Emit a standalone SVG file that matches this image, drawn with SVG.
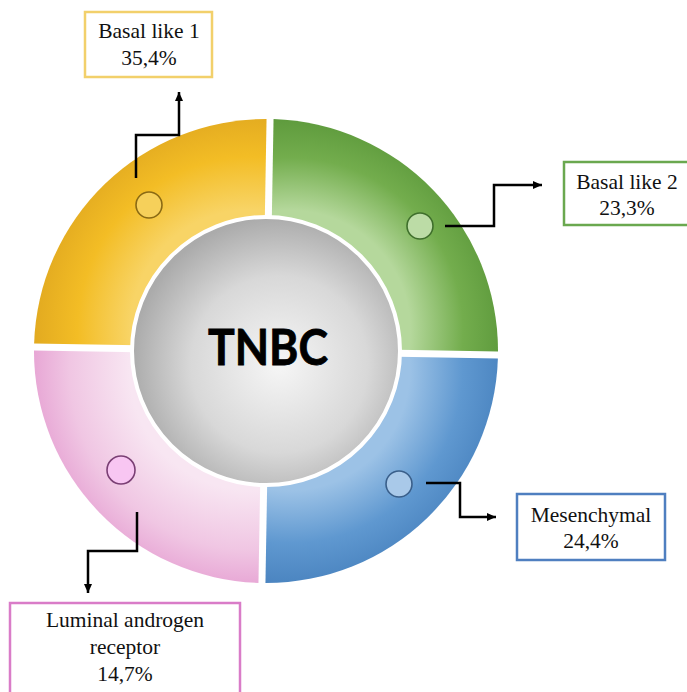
<svg xmlns="http://www.w3.org/2000/svg" width="687" height="692" viewBox="0 0 687 692">
<defs>
<style>
.lbl{font-family:"Liberation Serif","Times New Roman",serif;font-size:21.5px;fill:#111;text-anchor:middle}
.box{fill:#fff;stroke-width:2.5}
.con{fill:none;stroke:#000;stroke-width:2.5;marker-end:url(#ah)}
.dot{stroke-width:1.6}
</style>
<marker id="ah" markerWidth="10" markerHeight="10" refX="9" refY="5" orient="auto" markerUnits="userSpaceOnUse"><path d="M0,1 L9,5 L0,9 Z" fill="#000"/></marker>
<radialGradient id="gY" gradientUnits="userSpaceOnUse" cx="250" cy="330" r="240">
<stop offset="0.5" stop-color="#f8d466"/><stop offset="0.72" stop-color="#f3bd25"/><stop offset="1" stop-color="#d9a01e"/></radialGradient>
<radialGradient id="gG" gradientUnits="userSpaceOnUse" cx="290" cy="330" r="240">
<stop offset="0.5" stop-color="#b5d89c"/><stop offset="0.72" stop-color="#73ad4d"/><stop offset="1" stop-color="#4f8d31"/></radialGradient>
<radialGradient id="gB" gradientUnits="userSpaceOnUse" cx="290" cy="370" r="240">
<stop offset="0.5" stop-color="#9cc2e6"/><stop offset="0.72" stop-color="#5f98d0"/><stop offset="1" stop-color="#3e78b6"/></radialGradient>
<radialGradient id="gP" gradientUnits="userSpaceOnUse" cx="250" cy="370" r="240">
<stop offset="0.5" stop-color="#f8e6f2"/><stop offset="0.75" stop-color="#f0c6e3"/><stop offset="1" stop-color="#e292cc"/></radialGradient>
<radialGradient id="gC" cx="0.55" cy="0.55" r="0.55">
<stop offset="0" stop-color="#f6f6f6"/><stop offset="0.6" stop-color="#d8d8d8"/><stop offset="1" stop-color="#ababab"/></radialGradient>
</defs>

<g id="ring" transform="rotate(1 266 351)">
<path id="seg-bl1" d="M262.5,347.5 L34,347.5 A232,232 0 0 1 262.5,119 Z" fill="url(#gY)"/>
<path id="seg-bl2" d="M269.5,347.5 L269.5,119 A232,232 0 0 1 498,347.5 Z" fill="url(#gG)"/>
<path id="seg-mes" d="M269.5,354.5 L498,354.5 A232,232 0 0 1 269.5,583 Z" fill="url(#gB)"/>
<path id="seg-lar" d="M262.5,354.5 L262.5,583 A232,232 0 0 1 34,354.5 Z" fill="url(#gP)"/>
</g>

<g id="center">
<circle cx="266" cy="351" r="134" fill="url(#gC)" stroke="#fff" stroke-width="4"/>
<text x="268" y="365" font-family="Lato,'Open Sans',sans-serif" font-weight="bold" font-size="49" fill="#000" stroke="#000" stroke-width="0.8" text-anchor="middle" textLength="120" lengthAdjust="spacingAndGlyphs">TNBC</text>
</g>

<g id="dots">
<circle class="dot" cx="149" cy="205" r="13" fill="#f6d05a" stroke="#8a6a14"/>
<circle class="dot" cx="420" cy="226" r="13" fill="#bcdca6" stroke="#3f6f2c"/>
<circle class="dot" cx="399" cy="484" r="13" fill="#a9c9e9" stroke="#3a5f8a"/>
<circle class="dot" cx="121" cy="470" r="14" fill="#f8c6f2" stroke="#7a3f74"/>
</g>

<g id="connectors">
<path class="con" d="M136,178 V135 H179 V92"/>
<path class="con" d="M445,226 H494 V185 H542"/>
<path class="con" d="M426,483 H460 V517 H496"/>
<path class="con" d="M137,512 V551 H88 V593"/>
</g>

<g id="node-bl1">
<rect class="box" x="85" y="12" width="127" height="65" stroke="#f2d06b"/>
<text class="lbl" x="149" y="38">Basal like 1</text>
<text class="lbl" x="149" y="65">35,4%</text>
</g>
<g id="node-bl2">
<rect class="box" x="564" y="162" width="130" height="63" stroke="#6aa84f"/>
<text class="lbl" x="627" y="189">Basal like 2</text>
<text class="lbl" x="627" y="215">23,3%</text>
</g>
<g id="node-mes">
<rect class="box" x="517" y="494" width="148" height="66" stroke="#4f7fc0"/>
<text class="lbl" x="591" y="522">Mesenchymal</text>
<text class="lbl" x="591" y="548">24,4%</text>
</g>
<g id="node-lar">
<rect class="box" x="10" y="603" width="230" height="100" stroke="#d97cc8"/>
<text class="lbl" x="125" y="627">Luminal androgen</text>
<text class="lbl" x="125" y="654">receptor</text>
<text class="lbl" x="125" y="681">14,7%</text>
</g>
</svg>
